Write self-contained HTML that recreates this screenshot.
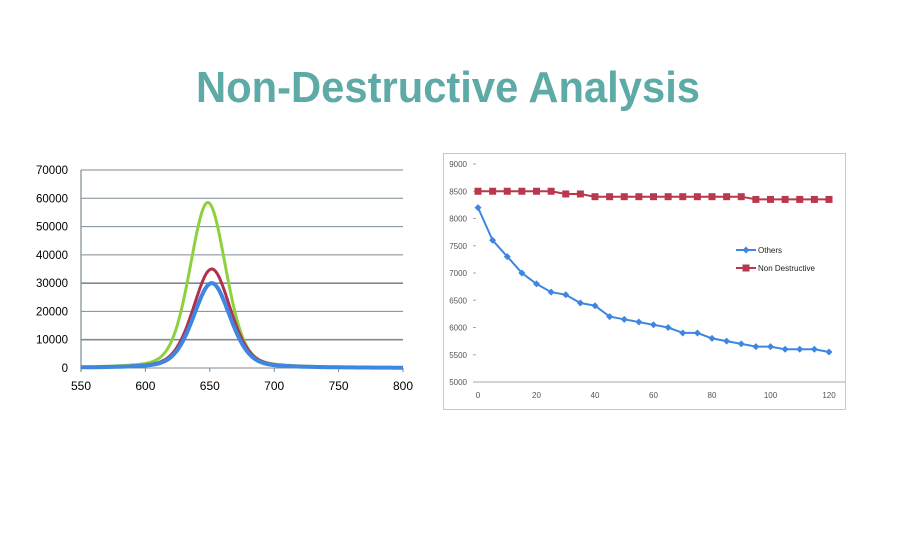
<!DOCTYPE html>
<html><head><meta charset="utf-8"><style>
html,body{margin:0;padding:0;background:#fff;}
svg{display:block;font-family:"Liberation Sans",sans-serif;}
</style></head><body>
<svg id="s" width="900" height="560" viewBox="0 0 900 560" xmlns="http://www.w3.org/2000/svg">
<text x="196" y="102" font-size="44" font-weight="bold" fill="#5eaaa6" textLength="504" lengthAdjust="spacingAndGlyphs">Non-Destructive Analysis</text>
<g id="left"></g>
<rect x="443.5" y="153.5" width="402" height="256" fill="none" stroke="#c8c8c8"/>
<g id="right"></g>
</svg>
<script>
var NS="http://www.w3.org/2000/svg";
function el(p,t,a,txt){var e=document.createElementNS(NS,t);for(var k in a)e.setAttribute(k,a[k]);if(txt!=null)e.textContent=txt;p.appendChild(e);return e;}
var L=document.getElementById('left');
var x0=81,x1=403,y0=368,ytop=170;
function lx(v){return x0+(v-550)/250*(x1-x0);}
function ly(v){return y0-(v/70000)*(y0-ytop);}
for(var i=0;i<=7;i++){var y=ly(i*10000);
 el(L,'line',{x1:x0,x2:x1,y1:y,y2:y,stroke:'#7d8b94','stroke-width':(i==3||i==1)?1.6:1});
 el(L,'text',{x:68,y:y+4,'font-size':11.5,'text-anchor':'end',fill:'#000'},String(i*10000));}
el(L,'line',{x1:x0,x2:x0,y1:ytop,y2:y0+4,stroke:'#7d8b94','stroke-width':1.2});
for(var v=550;v<=800;v+=50){var x=lx(v);
 el(L,'line',{x1:x,x2:x,y1:y0,y2:y0+4,stroke:'#7d8b94'});
 el(L,'text',{x:x,y:y0+22,'font-size':12,'text-anchor':'middle',fill:'#000'},String(v));}
function peak(A,c,g,s,eta){var d='';for(var v=550;v<=800;v+=0.5){var dx=v-c;
 var val=A*(eta/(1+(dx/g)*(dx/g))+(1-eta)*Math.exp(-dx*dx/(2*s*s)));
 d+=(v==550?'M':'L')+lx(v).toFixed(1)+' '+ly(val).toFixed(1);}return d;}
el(L,'path',{d:peak(58500,648.5,16.5,14,0.25),fill:'none',stroke:'#8dd13e','stroke-width':3});
el(L,'path',{d:peak(35000,651.5,17,14.5,0.3),fill:'none',stroke:'#b03050','stroke-width':3});
el(L,'path',{d:peak(30000,651.5,16.5,14.5,0.3),fill:'none',stroke:'#3f86e0','stroke-width':4});

var R=document.getElementById('right');
var rx0=478,rx1=829,ry0=382,ry1=164;
function rx(v){return rx0+v/120*(rx1-rx0);}
function ry(v){return ry0-(v-5000)/4000*(ry0-ry1);}
for(var v=5000;v<=9000;v+=500){var y=ry(v);
 el(R,'text',{x:467,y:y+3,'font-size':8,'text-anchor':'end',fill:'#555'},String(v));
 el(R,'line',{x1:473,x2:476,y1:y,y2:y,stroke:'#aaa'});}
el(R,'line',{x1:473,x2:845,y1:ry0,y2:ry0,stroke:'#aaa'});
for(var v=0;v<=120;v+=20){el(R,'text',{x:rx(v),y:ry0+16,'font-size':8,'text-anchor':'middle',fill:'#555'},String(v));}
var oth=[8200,7600,7300,7000,6800,6650,6600,6450,6400,6200,6150,6100,6050,6000,5900,5900,5800,5750,5700,5650,5650,5600,5600,5600,5550];
var nd=[];for(var i=0;i<25;i++){var t=i*5;nd.push(t<=25?8500:t<=35?8450:t<=90?8400:8350);}
function line(data,col,w){var d='';data.forEach(function(v,i){d+=(i?'L':'M')+rx(i*5).toFixed(1)+' '+ry(v).toFixed(1);});el(R,'path',{d:d,fill:'none',stroke:col,'stroke-width':w});}
line(nd,'#b8384e',2);line(oth,'#3f86e0',2);
nd.forEach(function(v,i){el(R,'rect',{x:rx(i*5)-3.5,y:ry(v)-3.5,width:7,height:7,fill:'#b8384e'});});
oth.forEach(function(v,i){var x=rx(i*5),y=ry(v);el(R,'path',{d:'M'+x+' '+(y-3.5)+'L'+(x+3.5)+' '+y+'L'+x+' '+(y+3.5)+'L'+(x-3.5)+' '+y+'Z',fill:'#3f86e0'});});
el(R,'line',{x1:736,x2:756,y1:250,y2:250,stroke:'#3f86e0','stroke-width':2});
el(R,'path',{d:'M746 246.5L749.5 250L746 253.5L742.5 250Z',fill:'#3f86e0'});
el(R,'text',{x:758,y:253,'font-size':8,fill:'#222'},'Others');
el(R,'line',{x1:736,x2:756,y1:268,y2:268,stroke:'#b8384e','stroke-width':2});
el(R,'rect',{x:742.5,y:264.5,width:7,height:7,fill:'#b8384e'});
el(R,'text',{x:758,y:271,'font-size':8,fill:'#222'},'Non Destructive');
</script>
</body></html>
